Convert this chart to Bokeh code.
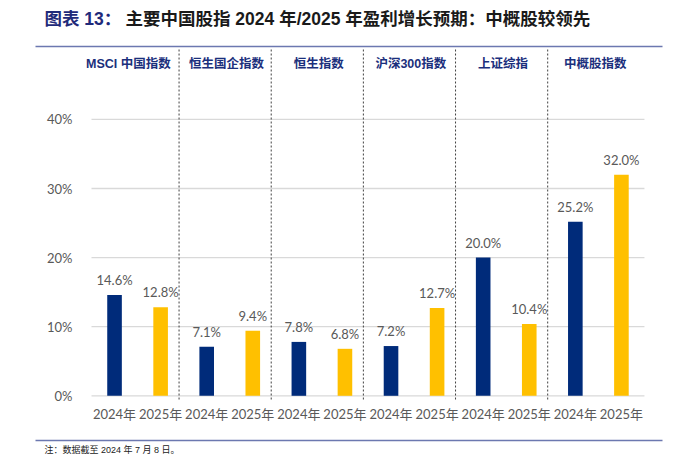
from bokeh.plotting import figure
from bokeh.models import ColumnDataSource, FixedTicker, Label
from bokeh.core.properties import value
from bokeh.embed import file_html
from bokeh.resources import INLINE

groups = ["MSCI 中国指数", "恒生国企指数", "恒生指数", "沪深300指数", "上证综指", "中概股指数"]
years = ["2024年", "2025年"]
v2024 = [14.6, 7.1, 7.8, 7.2, 20.0, 25.2]
v2025 = [12.8, 9.4, 6.8, 12.7, 10.4, 32.0]
y_ticks = [0, 10, 20, 30, 40]
title_a = "图表 13："
title_b = "主要中国股指 2024 年/2025 年盈利增长预期：中概股较领先"
note = "注：数据截至 2024 年 7 月 8 日。"

NAVY = "#002B7A"
GOLD = "#FFC000"
GREY = "#595959"
LINE = "#6C78B0"
NUMF = "Lato, 'Noto Sans CJK SC'"
HEADF = "'Liberation Sans', 'Noto Sans CJK SC'"

W, H = 679, 454
SX, X0 = 46.08, 91      # px per slot, px of x=0
SY, Y0 = 6.91, 395.3    # px per 1%, px of y=0
def dx(px): return (px - X0) / SX
def dy(py): return (Y0 - py) / SY

xs, vals, cols, labs = [], [], [], []
for g in range(len(groups)):
    for k, (vv, c) in enumerate(((v2024[g], NAVY), (v2025[g], GOLD))):
        xs.append(2 * g + k + 0.5)
        vals.append(vv)
        cols.append(c)
        labs.append(f"{vv:.1f}%")
src = ColumnDataSource(dict(x=xs, top=vals, color=cols, lab=labs))

p = figure(width=W, height=H, x_range=(dx(0), dx(W)), y_range=(dy(H), dy(0)),
           output_backend="svg", toolbar_location=None, title=None,
           min_border_left=0, min_border_right=0, min_border_top=0, min_border_bottom=0)
p.outline_line_color = None
p.background_fill_color = "white"
p.border_fill_color = "white"
p.xgrid.visible = False
p.ygrid.visible = False

# horizontal grid lines across the category span
n = len(xs)
p.segment(x0=[0] * len(y_ticks), x1=[n] * len(y_ticks), y0=y_ticks, y1=y_ticks,
          line_color="#D9D9D9", line_width=1.3)

p.yaxis.fixed_location = 0
p.yaxis.ticker = FixedTicker(ticks=y_ticks)
p.yaxis.major_label_overrides = {t: f"{t}%" for t in y_ticks}
p.yaxis.axis_line_color = None
p.yaxis.major_tick_line_color = None
p.yaxis.minor_tick_line_color = None
p.yaxis.major_label_text_font = NUMF
p.yaxis.major_label_text_font_size = "13px"
p.yaxis.major_label_text_color = GREY
p.yaxis.major_label_standoff = 13

p.xaxis.fixed_location = 0
p.xaxis.ticker = FixedTicker(ticks=xs)
p.xaxis.major_label_overrides = {x: years[i % 2] for i, x in enumerate(xs)}
p.xaxis.axis_line_color = None
p.xaxis.major_tick_line_color = None
p.xaxis.minor_tick_line_color = None
p.xaxis.major_label_text_font = NUMF
p.xaxis.major_label_text_font_size = "13px"
p.xaxis.major_label_text_color = GREY
p.xaxis.major_label_standoff = 4

p.vbar(x="x", top="top", bottom=0, width=0.317, fill_color="color", line_color=None, source=src)
p.text(x="x", y="top", text="lab", source=src, text_align="center", text_baseline="alphabetic",
       y_offset=-15, text_font=value("Lato"), text_font_size="13px", text_color=GREY)

# group dividers
div_x = [2 * g - 0.1 for g in range(1, len(groups))]
p.segment(x0=div_x, x1=div_x, y0=[dy(49)] * len(div_x), y1=[dy(401)] * len(div_x),
          line_color="#404040", line_width=1, line_dash="2 2")

# group headers
hx = [2 * g + 1 - 0.07 for g in range(len(groups))]
hx[0] -= 0.13
gsrc = ColumnDataSource(dict(x=hx, y=[dy(63)] * len(groups), t=groups))
p.text(x="x", y="y", text="t", source=gsrc, text_align="center", text_baseline="middle",
       text_font=value(HEADF), text_font_size="12.5px", text_font_style="bold", text_color="#1B2F7C")

# header/footer rules
p.segment(x0=[dx(35)] * 2, x1=[dx(662)] * 2, y0=[dy(46), dy(440)], y1=[dy(46), dy(440)],
          line_color=LINE, line_width=1.6)

# title and note
p.add_layout(Label(x=dx(44), y=dy(18), text=title_a, text_baseline="middle",
                   text_font=HEADF, text_font_size="17.5px", text_font_style="bold", text_color="#1F2A7A"))
p.add_layout(Label(x=dx(125), y=dy(18), text=title_b, text_baseline="middle",
                   text_font=HEADF, text_font_size="17.5px", text_font_style="bold", text_color="#1A1A1A"))
p.add_layout(Label(x=dx(44), y=dy(444), text=note, text_baseline="top",
                   text_font=HEADF, text_font_size="9px", text_color="#222222"))

open("out.html", "w").write(file_html(p, INLINE))
